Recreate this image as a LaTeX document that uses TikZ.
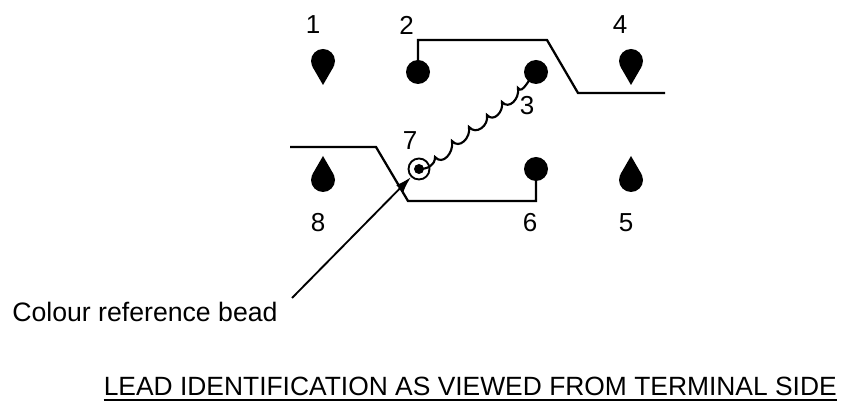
\documentclass[tikz,border=0pt]{standalone}
\usepackage{fontspec}
\setmainfont{Liberation Sans}
\usetikzlibrary{arrows.meta,calc}
\tikzset{
  x=0.75pt,y=0.75pt,
  wire/.style={line width=1.7pt,line join=miter,black},
  coil/.style={line width=1.6pt,black},
  scallop/.style={out=-50,in=-80,looseness=1.3},
  pinhead/.style={circle,fill=black,draw=none,minimum size=24*0.75pt,inner sep=0pt},
  beadring/.style={circle,draw=black,fill=white,line width=1.4pt,minimum size=21*0.75pt,inner sep=0pt},
  numlabel/.style={font=\fontsize{19.5pt}{22pt}\selectfont,inner sep=0pt,text=black},
  notelabel/.style={font=\fontsize{20pt}{22pt}\selectfont,inner sep=0pt,text=black,anchor=west},
  caplabel/.style={font=\fontsize{19.8pt}{22pt}\selectfont,inner sep=0pt,text=black,anchor=east},
}
\begin{document}
\begin{tikzpicture}
\useasboundingbox (0,0) rectangle (844,-402);
% pins
\node[pinhead] (p1) at (323,-61) {};
\node[pinhead] (p2) at (418,-72) {};
\node[pinhead] (p3) at (536,-72) {};
\node[pinhead] (p4) at (631,-61) {};
\node[pinhead] (p5) at (631,-180) {};
\node[pinhead] (p6) at (536,-169) {};
\node[pinhead] (p8) at (323,-180) {};
\fill[black] ($(p1)+(-10.4,-6)$) -- (323,-85) -- ($(p1)+(10.4,-6)$) -- cycle;
\fill[black] ($(p4)+(-10.4,-6)$) -- (631,-85) -- ($(p4)+(10.4,-6)$) -- cycle;
\fill[black] ($(p8)+(-10.4,6)$) -- (323,-156) -- ($(p8)+(10.4,6)$) -- cycle;
\fill[black] ($(p5)+(-10.4,6)$) -- (631,-156) -- ($(p5)+(10.4,6)$) -- cycle;
% leads
\coordinate (a1) at (418,-40);
\coordinate (a2) at (547,-40);
\coordinate (a3) at (578,-93);
\coordinate (a4) at (665,-93);
\draw[wire] (p2.center) -- (a1) -- (a2) -- (a3) -- (a4);
\coordinate (b1) at (290,-147);
\coordinate (b2) at (376,-147);
\coordinate (b3) at (408,-201);
\coordinate (b4) at (536,-201);
\draw[wire] (b1) -- (b2) -- (b3) -- (b4) -- (p6.center);
% bead
\node[beadring] (bead) at (419,-169) {};
\node[circle,fill=black,minimum size=10*0.75pt,inner sep=0pt] (dot) at (419,-169) {};
% coil
\coordinate (c1) at (435,-157);
\coordinate (c2) at (452,-141);
\coordinate (c3) at (469,-127);
\coordinate (c4) at (487,-115);
\coordinate (c5) at (502,-102);
\coordinate (c6) at (518,-88);
\draw[coil] (dot.center) to[out=0,in=-90,looseness=1.1] (c1)
  to[scallop] (c2) to[scallop] (c3) to[scallop] (c4)
  to[scallop] (c5) to[scallop] (c6)
  to[out=-60,in=-140,looseness=0.9] (p3.center);
% arrow
\coordinate (arrowstart) at (292,-298);
\draw[line width=1.4pt,-{Latex[length=16*0.75pt,width=10*0.75pt]}] (arrowstart) -- (bead);
% labels
\node[numlabel] (n1) at (313,-25) {1};
\node[numlabel] (n2) at (406.5,-25) {2};
\node[numlabel] (n3) at (527,-106) {3};
\node[numlabel] (n4) at (620,-25) {4};
\node[numlabel] (n5) at (626,-222.5) {5};
\node[numlabel] (n6) at (530,-222.5) {6};
\node[numlabel] (n7) at (410,-141) {7};
\node[numlabel] (n8) at (318,-222.5) {8};
\node[notelabel] (note) at (12,-312) {Colour reference bead};
\node[caplabel,anchor=base east] (cap) at (837,-396) {LEAD IDENTIFICATION AS VIEWED FROM TERMINAL SIDE};
\draw[line width=1.2pt] (cap.west |- 0,-400) -- (837,-400);
\end{tikzpicture}
\end{document}
